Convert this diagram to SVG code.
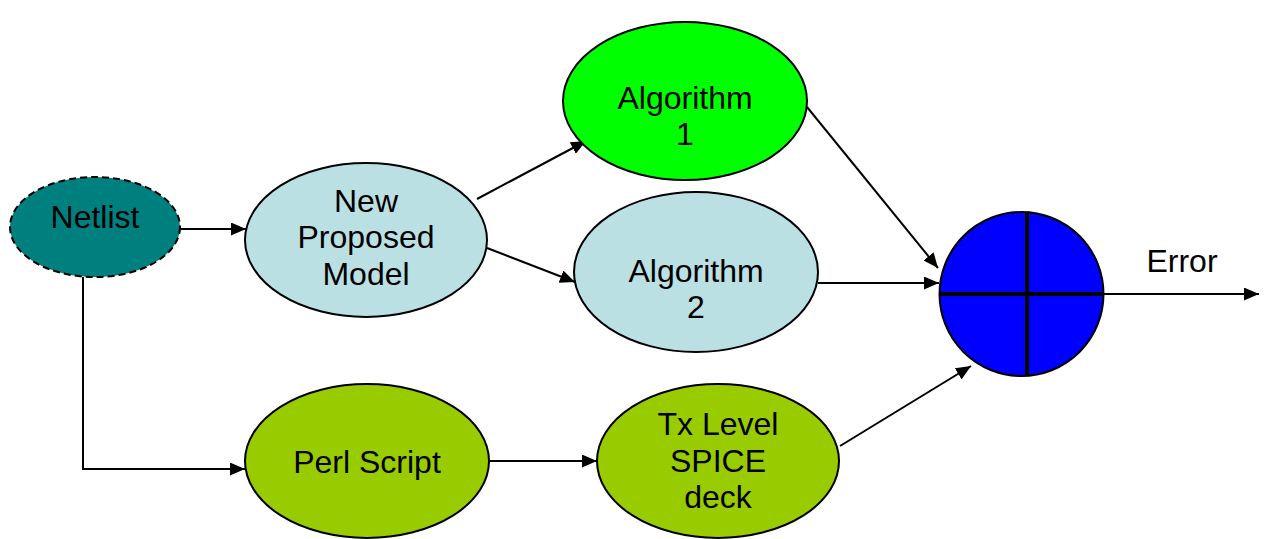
<svg xmlns="http://www.w3.org/2000/svg" width="1266" height="539" viewBox="0 0 1266 539">
  <defs>
    <marker id="arrow" viewBox="0 0 15 13" refX="15" refY="6.5" markerWidth="15" markerHeight="13" markerUnits="userSpaceOnUse" orient="auto">
      <path d="M0,0 L15,6.5 L0,13 Z" fill="#000"/>
    </marker>
    <style>
      .node { stroke: #000; stroke-width: 2; }
      .edge { fill: none; stroke: #000; stroke-width: 2; marker-end: url(#arrow); }
      text { font-family: "Liberation Sans", Arial, sans-serif; font-size: 32px; fill: #000; text-anchor: middle; }
    </style>
  </defs>
  <rect width="1266" height="539" fill="#fff"/>

  <g id="connectors">
    <line class="edge" x1="179" y1="229" x2="246" y2="229"/>
    <polyline class="edge" points="83,277 83,469 245,469"/>
    <line class="edge" x1="477" y1="199" x2="586" y2="141"/>
    <line class="edge" x1="487" y1="248" x2="575" y2="282"/>
    <line class="edge" x1="490" y1="461" x2="597" y2="461"/>
    <line class="edge" x1="807" y1="107" x2="938" y2="268"/>
    <line class="edge" x1="818" y1="283" x2="939" y2="283"/>
    <line class="edge" x1="840" y1="446" x2="971" y2="366"/>
    <line class="edge" x1="1104" y1="294" x2="1259" y2="294"/>
  </g>

  <g id="netlist">
    <ellipse cx="95" cy="227" rx="85" ry="50" fill="#007F7F" stroke="#000" stroke-width="2" stroke-dasharray="7,4"/>
    <text x="95" y="228">Netlist</text>
  </g>

  <g id="model">
    <ellipse class="node" cx="366" cy="240" rx="121" ry="77" fill="#BBE0E3"/>
    <text x="366" y="212">New</text>
    <text x="366" y="248">Proposed</text>
    <text x="366" y="285">Model</text>
  </g>

  <g id="algorithm1">
    <ellipse class="node" cx="685" cy="101" rx="122" ry="79" fill="#00FF00"/>
    <text x="685" y="109">Algorithm</text>
    <text x="685" y="145">1</text>
  </g>

  <g id="algorithm2">
    <ellipse class="node" cx="696" cy="272" rx="122" ry="80" fill="#BBE0E3"/>
    <text x="696" y="282">Algorithm</text>
    <text x="696" y="318">2</text>
  </g>

  <g id="perl">
    <ellipse class="node" cx="367" cy="461" rx="122" ry="77" fill="#99CC00"/>
    <text x="367" y="473">Perl Script</text>
  </g>

  <g id="spice">
    <ellipse class="node" cx="718" cy="461" rx="121" ry="77" fill="#99CC00"/>
    <text x="718" y="435">Tx Level</text>
    <text x="718" y="472">SPICE</text>
    <text x="718" y="508">deck</text>
  </g>

  <g id="summer">
    <circle class="node" cx="1021.5" cy="294" r="82" fill="#0000FF"/>
    <line x1="940" y1="294" x2="1103" y2="294" stroke="#000" stroke-width="4"/>
    <line x1="1027" y1="212.5" x2="1027" y2="376" stroke="#000" stroke-width="4"/>
  </g>

  <g id="error-label">
    <text x="1182" y="272">Error</text>
  </g>
</svg>
